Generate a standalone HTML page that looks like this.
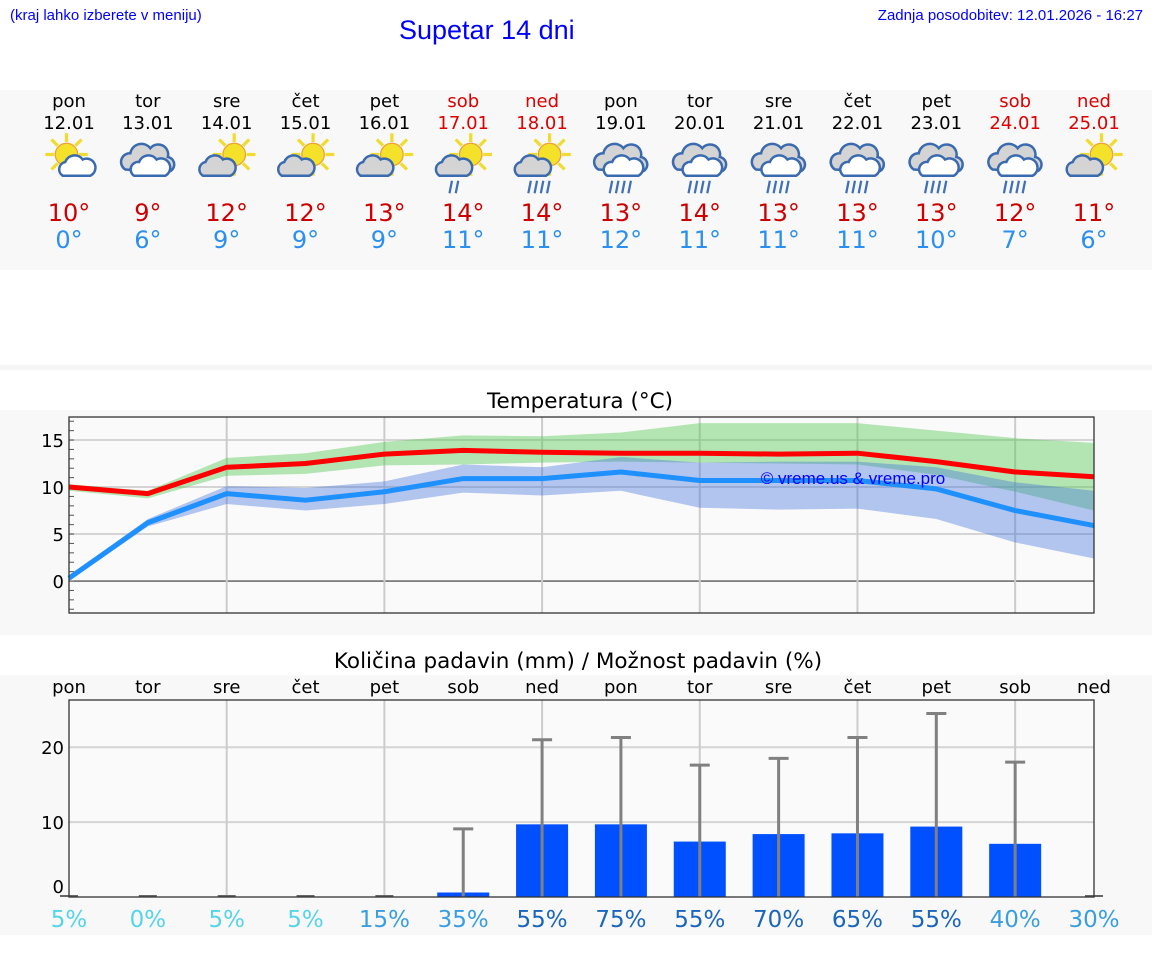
<!DOCTYPE html>
<html><head><meta charset="utf-8">
<style>
body{margin:0;width:1152px;height:975px;background:#fff;font-family:"DejaVu Sans","Liberation Sans",sans-serif;overflow:hidden;position:relative}
.a{position:absolute}
</style></head>
<body>
<div class="a" style="left:10px;top:7px;font:15px 'Liberation Sans',sans-serif;color:#00f">(kraj lahko izberete v meniju)</div>
<div class="a" style="left:399px;top:15px;font:27px 'Liberation Sans',sans-serif;color:#00f">Supetar 14 dni</div>
<div class="a" style="right:9px;top:7px;font:15px 'Liberation Sans',sans-serif;color:#00f">Zadnja posodobitev: 12.01.2026 - 16:27</div>
<svg id="s" class="a" style="left:0;top:0" width="1152" height="975"></svg>
<script>
const days=["pon","tor","sre","čet","pet","sob","ned","pon","tor","sre","čet","pet","sob","ned"];
const dates=["12.01","13.01","14.01","15.01","16.01","17.01","18.01","19.01","20.01","21.01","22.01","23.01","24.01","25.01"];
const icons=["psun","cloud","psun","psun","psun","psunrain","psunrain","rain","rain","rain","rain","rain","rain","psun"];
const maxT=[10,9,12,12,13,14,14,13,14,13,13,13,12,11];
const minT=[0,6,9,9,9,11,11,12,11,11,11,10,7,6];
const maxLine=[10,9.3,12.1,12.5,13.5,13.9,13.7,13.6,13.6,13.5,13.6,12.7,11.6,11.1];
const maxHi=[10.3,9.6,13.1,13.6,14.8,15.5,15.4,15.8,16.8,16.8,16.8,16,15.2,14.7];
const maxLo=[9.6,8.8,11.2,11.4,12.3,12.4,12.6,12.7,12.6,12.5,12.4,11.3,9.5,7.5];
const minLine=[0.3,6.2,9.3,8.6,9.5,10.9,10.9,11.6,10.7,10.7,10.7,9.8,7.5,5.9];
const minHi=[0.5,6.6,10.1,9.9,10.6,12.4,12.1,13.2,12.6,12.7,12.7,12.1,10.5,9.6];
const minLo=[0,5.8,8.2,7.5,8.2,9.4,9.1,9.6,7.8,7.6,7.7,6.6,4.1,2.4];
const tempTicks=[0,5,10,15];
const rain=[0,0,0,0,0,0.6,9.7,9.7,7.4,8.4,8.5,9.4,7.1,0];
const rainMax=[0,0,0,0,0,9.1,21.0,21.3,17.6,18.5,21.3,24.5,18.0,0];
const chance=[5,0,5,5,15,35,55,75,55,70,65,55,40,30];
const rainTicks=[0,10,20];

const S=document.getElementById('s');const NS="http://www.w3.org/2000/svg";
function el(t,a,p){const e=document.createElementNS(NS,t);for(const k in a)e.setAttribute(k,a[k]);(p||S).appendChild(e);return e}
function tx(x,y,s,a,p){const e=el('text',Object.assign({x:x,y:y,'text-anchor':'middle','font-family':'DejaVu Sans, Liberation Sans, sans-serif'},a),p);e.textContent=s;return e}
const X0=69,X1=1094;const xs=i=>X0+i*(X1-X0)/13;
el('rect',{x:0,y:90,width:1152,height:180,fill:'#f8f8f8'});
el('rect',{x:0,y:365,width:1152,height:5,fill:'#f6f6f6'});
el('rect',{x:0,y:410,width:1152,height:225,fill:'#f8f8f8'});
el('rect',{x:0,y:675,width:1152,height:260,fill:'#f8f8f8'});
function icon(type,cx,cy){
 const g=el('g',{transform:`translate(${cx},${cy}) scale(1.25)`});
 
 
 if(type!=='cloud'&&type!=='rain'){
  const sx=type==='psun'&&cx<100?-2:6, sy=-6;
  for(let k=0;k<8;k++){const a=k*Math.PI/4;el('line',{x1:sx+Math.cos(a)*10,y1:sy+Math.sin(a)*10,x2:sx+Math.cos(a)*17,y2:sy+Math.sin(a)*17,stroke:'#f0dc30','stroke-width':2.6},g)}
  el('circle',{cx:sx,cy:sy,r:9,fill:'#f3e12a',stroke:'#f0a030','stroke-width':1},g);
 }
 if(type==='cloud'||type==='rain'){
  el('path',{d:'M-18,6 a7,7 0 0 1 4,-13 a9,9 0 0 1 16,-4 a8,8 0 0 1 14,7 a6,6 0 0 1 -2,12 z',fill:'#d4d4d4',stroke:'#3a6ab0','stroke-width':2},g);
  el('path',{d:'M-11,11 a6,6 0 0 1 4,-11 a8,8 0 0 1 14,-2 a6,6 0 0 1 7,13 z',fill:'#fff',stroke:'#3a6ab0','stroke-width':2},g);
 } else {
  const ox=cx<100?6:-8;
  el('path',{d:`M${ox-11},11 a6,6 0 0 1 2,-11 a8,8 0 0 1 14,-2 a6,6 0 0 1 6,13 z`,fill:cx<100?'#fff':'#d4d4d4',stroke:'#3a6ab0','stroke-width':2},g);
 }
 if(type==='rain'||type==='psunrain'){
  const n=type==='rain'?4:(cx<470?2:4);
  for(let k=0;k<n;k++){const x=(type==='rain'?-8:-10)+k*5;el('line',{x1:x+1,y1:15,x2:x-1,y2:25,stroke:'#4070b8','stroke-width':1.8},g)}
 }
}
for(let i=0;i<14;i++){
 const x=xs(i);const we=(i===5||i===6||i===12||i===13);
 const col=we?'#d00':'#000';
 let t=tx(x,107,days[i],{'font-size':18,fill:col});
 t=tx(x,129,dates[i],{'font-size':18,fill:col});
 icon(icons[i],x,162);
 t=tx(x,221,maxT[i]+'°',{'font-size':24,fill:'#c00'});
 t=tx(x,248,minT[i]+'°',{'font-size':24,fill:'#2a8ff0'});
}
const TY0=417,TY1=613,tMax=17.45,tMin=-3.4;
const ty=v=>TY0+(tMax-v)/(tMax-tMin)*(TY1-TY0);
let t=tx(580,408,'Temperatura (°C)',{'font-size':21.5,fill:'#000'});
el('rect',{x:X0,y:TY0,width:X1-X0,height:TY1-TY0,fill:'#fafafa'});
for(const v of tempTicks){el('line',{x1:X0,x2:X1,y1:ty(v),y2:ty(v),stroke:v===0?'#333':'#d4d4d4','stroke-width':v===0?1.2:2});
 t=tx(X0-5,ty(v)+7,String(v),{'font-size':18,'text-anchor':'end'});}
for(let v=-3;v<=17;v++){el('line',{x1:X0,x2:X0+5,y1:ty(v),y2:ty(v),stroke:'#555','stroke-width':1})}
for(let i=2;i<13;i+=2)el('line',{x1:xs(i),x2:xs(i),y1:TY0,y2:TY1,stroke:'#ccc','stroke-width':2});
function band(hi,lo,fill,name){const p=hi.map((v,i)=>xs(i)+','+ty(v)).concat(lo.map((v,i)=>xs(i)+','+ty(v)).reverse());
 const e=el('polygon',{points:p.join(' '),fill:fill});}
band(maxHi,maxLo,'rgba(80,200,80,0.42)','max-temp-band');
band(minHi,minLo,'rgba(60,110,220,0.38)','min-temp-band');
function line(a,c,name){const e=el('polyline',{points:a.map((v,i)=>xs(i)+','+ty(v)).join(' '),fill:'none',stroke:c,'stroke-width':5,'stroke-linejoin':'round'});}
line(minLine,'#1e90ff','min-temp-line');
line(maxLine,'#ff0000','max-temp-line');
t=tx(853,484,'© vreme.us & vreme.pro',{'font-size':17,fill:'#00f','font-family':'Liberation Sans, sans-serif'});
el('rect',{x:X0,y:TY0,width:X1-X0,height:TY1-TY0,fill:'none',stroke:'#333','stroke-width':1.3});
const PY0=700,PY1=897,pMax=26.3;const py=v=>PY1-v/pMax*(PY1-PY0);
t=tx(578,668,'Količina padavin (mm) / Možnost padavin (%)',{'font-size':21.5,fill:'#000'});
el('rect',{x:X0,y:PY0,width:X1-X0,height:PY1-PY0,fill:'#fafafa'});
for(const v of rainTicks){if(v>0)el('line',{x1:X0,x2:X1,y1:py(v),y2:py(v),stroke:'#d4d4d4','stroke-width':2});
 t=tx(X0-5,v===0?py(v)-4:py(v)+7,String(v),{'font-size':18,'text-anchor':'end'});}
for(let i=2;i<13;i+=2)el('line',{x1:xs(i),x2:xs(i),y1:PY0,y2:PY1,stroke:'#ccc','stroke-width':2});
function pctCol(p){return p<=5?'#55d4ea':(p<=40?'#3a9ee0':'#1a66bb')}
for(let i=0;i<14;i++){const x=xs(i);
 t=tx(x,693,days[i],{'font-size':18});
 if(rain[i]>0){const b=el('rect',{x:x-26,y:py(rain[i]),width:52,height:PY1-py(rain[i]),fill:'#0050ff'});}
 if(rainMax[i]>0){const e=el('line',{x1:x,x2:x,y1:py(rainMax[i]),y2:PY1,stroke:'#808080','stroke-width':3});
  el('line',{x1:x-10,x2:x+10,y1:py(rainMax[i]),y2:py(rainMax[i]),stroke:'#808080','stroke-width':3});}
 else el('line',{x1:x-9,x2:x+9,y1:PY1-1,y2:PY1-1,stroke:'#666','stroke-width':2});
 t=tx(x,927,chance[i]+'%',{'font-size':23,fill:pctCol(chance[i])});
}
el('rect',{x:X0,y:PY0,width:X1-X0,height:PY1-PY0,fill:'none',stroke:'#333','stroke-width':1.3});
</script>
</body></html>
